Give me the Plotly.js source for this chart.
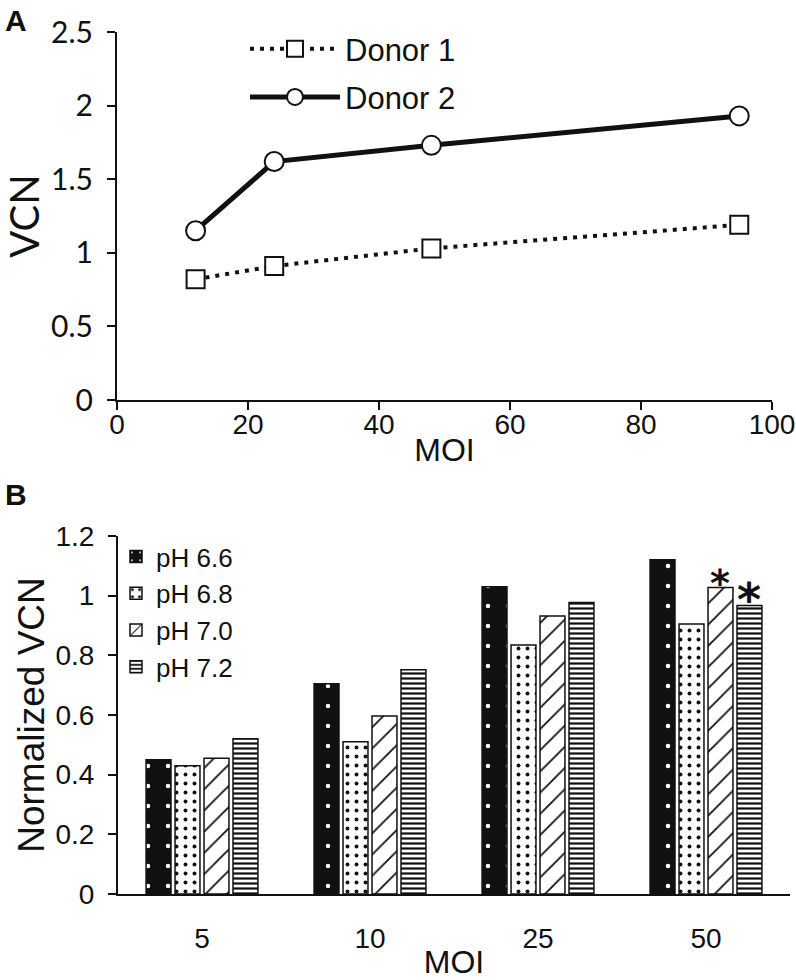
<!DOCTYPE html>
<html><head><meta charset="utf-8">
<script src="https://cdn.plot.ly/plotly-3.0.1.min.js"></script>
<style>html,body{margin:0;padding:0;background:#fff;} #chart{width:796px;height:980px;}</style>
</head><body><div id="chart"></div>
<script>
// Panel A data
const moiA = [12, 24, 48, 95];
const donor1 = [0.82, 0.91, 1.03, 1.19];
const donor2 = [1.15, 1.62, 1.73, 1.93];
const ticksAX = [0, 20, 40, 60, 80, 100];
const ticksAY = [0, 0.5, 1, 1.5, 2, 2.5];

// Panel B data
const moiB = ['5', '10', '25', '50'];
const ph66 = [0.45, 0.705, 1.03, 1.12];
const ph68 = [0.43, 0.51, 0.835, 0.905];
const ph70 = [0.455, 0.597, 0.932, 1.027];
const ph72 = [0.52, 0.752, 0.977, 0.967];
const sig70 = ['', '', '', '*'];
const sig72 = ['', '', '', '*'];
const ticksBY = [0, 0.2, 0.4, 0.6, 0.8, 1, 1.2];
const ticksBYText = ['0', '0.2', '0.4', '0.6', '0.8', '1', '1.2'];

const K = '#111111';
const arial = 'Liberation Sans, Arial, sans-serif';
const calib = 'Lato, Carlito, sans-serif';

const W = 796, H = 980;
const domXB = [118/W, 790/W];
const BARGAP = 0.31;

const traces = [
  {
    x: moiA, y: donor1, name: 'Donor 1', type: 'scatter', mode: 'lines+markers',
    line: {color: K, width: 4, dash: '4px,6px'},
    marker: {symbol: 'square', size: 18, color: '#fff', line: {color: K, width: 2}},
    xaxis: 'x', yaxis: 'y', legend: 'legend', legendgroup: 'd1'
  },
  {
    x: moiA, y: donor2, name: 'Donor 2', type: 'scatter', mode: 'lines+markers',
    line: {color: K, width: 5},
    marker: {symbol: 'circle', size: 19, color: '#fff', line: {color: K, width: 2}},
    xaxis: 'x', yaxis: 'y', legend: 'legend', legendgroup: 'd2'
  },
  {
    x: moiB, y: ph66, name: 'pH 6.6', type: 'bar', xaxis: 'x2', yaxis: 'y2', legend: 'legend2',
    marker: {color: K, line: {color: K, width: 1.5},
      pattern: {shape: '.', bgcolor: K, fgcolor: '#fff', size: 20, solidity: 0.04}}
  },
  {
    x: moiB, y: ph68, name: 'pH 6.8', type: 'bar', xaxis: 'x2', yaxis: 'y2', legend: 'legend2',
    marker: {color: '#fff', line: {color: K, width: 1.5},
      pattern: {shape: '.', bgcolor: '#fff', fgcolor: K, size: 9, solidity: 0.15}}
  },
  {
    x: moiB, y: ph70, name: 'pH 7.0', type: 'bar', xaxis: 'x2', yaxis: 'y2', legend: 'legend2',
    marker: {color: '#fff', line: {color: K, width: 1.5},
      pattern: {shape: '/', bgcolor: '#fff', fgcolor: K, size: 15, solidity: 0.12}}
  },
  {
    x: moiB, y: ph72, name: 'pH 7.2', type: 'bar', xaxis: 'x2', yaxis: 'y2', legend: 'legend2',
    marker: {color: '#fff', line: {color: K, width: 1.5},
      pattern: {shape: '-', bgcolor: '#fff', fgcolor: K, size: 5, solidity: 0.45}}
  }
];

// asterisk annotations placed at bar tops (category index + offset computed from bar group geometry)
const catW = (domXB[1] - domXB[0]) * W / moiB.length;
const slot = catW * (1 - BARGAP) / 4;
const stars = [];
function addStars(sig, vals, idx, size) {
  sig.forEach((s, j) => {
    if (!s) return;
    stars.push({
      text: s, x: j, y: vals[j], xref: 'x2', yref: 'y2',
      xshift: (idx - 1.5) * slot, yanchor: 'bottom', yshift: -0.52 * size,
      showarrow: false, font: {family: 'DejaVu Sans, sans-serif', size: size, color: K, weight: 'bold'}
    });
  });
}
addStars(sig70, ph70, 2, 38);
addStars(sig72, ph72, 3, 46);

const axisCommon = {
  showgrid: false, zeroline: false, showline: true, linecolor: K, linewidth: 2,
  ticks: 'outside', ticklen: 8, tickwidth: 2, tickcolor: K
};

const layout = {
  width: W, height: H,
  margin: {l: 0, r: 0, t: 0, b: 0},
  paper_bgcolor: '#fff', plot_bgcolor: '#fff',
  barmode: 'group', bargap: BARGAP, bargroupgap: 0.14,
  xaxis: Object.assign({}, axisCommon, {
    domain: [117/W, 772/W], anchor: 'y', range: [0, 100],
    tickvals: ticksAX, tickfont: {family: arial, size: 28, color: K},
    ticklabelstandoff: -10,
    title: {text: 'MOI', font: {family: arial, size: 32, color: K}, standoff: 0}
  }),
  yaxis: Object.assign({}, axisCommon, {
    domain: [1 - 400/H, 1 - 32/H], anchor: 'x', range: [0, 2.5],
    tickvals: ticksAY, tickfont: {family: calib, size: 30, color: K},
    ticklabelstandoff: 8,
    title: {text: 'VCN', font: {family: calib, size: 40, color: K}, standoff: 6}
  }),
  xaxis2: Object.assign({}, axisCommon, {
    domain: domXB, anchor: 'y2', type: 'category', range: [-0.5, moiB.length - 0.5],
    ticks: '', ticklabelstandoff: 18,
    tickfont: {family: arial, size: 28, color: K},
    title: {text: 'MOI', font: {family: arial, size: 32, color: K}, standoff: 6}
  }),
  yaxis2: Object.assign({}, axisCommon, {
    domain: [1 - 894/H, 1 - 536/H], anchor: 'x2', range: [0, 1.2],
    tickvals: ticksBY, ticktext: ticksBYText, tickfont: {family: arial, size: 28, color: K},
    ticklabelstandoff: 8,
    title: {text: 'Normalized VCN', font: {family: arial, size: 37, color: K}, standoff: 0}
  }),
  legend: {
    x: 245/W, y: 1 - 22/H, xanchor: 'left', yanchor: 'top',
    bgcolor: 'rgba(0,0,0,0)', borderwidth: 0, itemwidth: 90,
    traceorder: 'grouped', tracegroupgap: 5,
    font: {family: arial, size: 31, color: K}
  },
  legend2: {
    x: 116/W, y: 1 - 533/H, xanchor: 'left', yanchor: 'top',
    bgcolor: 'rgba(0,0,0,0)', borderwidth: 0, itemwidth: 30,
    font: {family: arial, size: 26, color: K}
  },
  showlegend: true,
  annotations: [
    {text: '<b>A</b>', xref: 'paper', yref: 'paper', x: 3/W, y: 1 - 2/H, xanchor: 'left', yanchor: 'top',
     showarrow: false, font: {family: arial, size: 30, color: K}},
    {text: '<b>B</b>', xref: 'paper', yref: 'paper', x: 3/W, y: 1 - 476/H, xanchor: 'left', yanchor: 'top',
     showarrow: false, font: {family: arial, size: 30, color: K}}
  ].concat(stars)
};

Plotly.newPlot('chart', traces, layout, {displayModeBar: false, staticPlot: true});
</script>
</body></html>
